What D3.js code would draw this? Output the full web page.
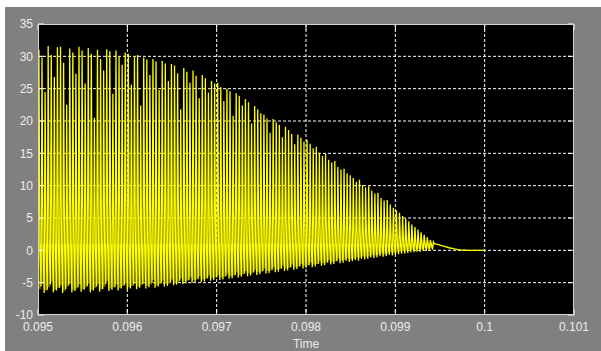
<!DOCTYPE html>
<html>
<head>
<meta charset="utf-8">
<script src="https://cdn.jsdelivr.net/npm/d3@7"></script>
<style>
  body { margin: 0; background: #fff; }
  svg { display: block; }
  text { font-family: "Liberation Sans", Arial, sans-serif; font-size: 12px; fill: #ececec; }
</style>
</head>
<body>
<svg id="chart" width="601" height="351"></svg>
<script>
// axis ticks
var xTicks = [0.095, 0.096, 0.097, 0.098, 0.099, 0.1, 0.101];
var xTickLabels = ["0.095", "0.096", "0.097", "0.098", "0.099", "0.1", "0.101"];
var yTicks = [-10, -5, 0, 5, 10, 15, 20, 25, 30, 35];

// spikes: one per switching period, starting at spikeStart
var spikeStart = 0.095;
var spikeStep = 0.0000345;
var bandTop = 1;

// peak of each spike
var peaks = [
  31.0, 29.8, 24.5, 31.6, 30.2, 26.8, 31.4, 31.5, 29.0, 22.5, 31.2, 30.6, 27.3, 31.5, 30.9,
  25.8, 31.3, 30.4, 20.5, 31.0, 29.6, 27.8, 31.1, 30.8, 24.2, 30.9, 30.0, 28.7, 30.6,
  30.4, 25.6, 29.9, 30.2, 22.4, 29.8, 29.5, 27.1, 29.6, 29.2, 24.8, 29.3, 28.9, 26.2, 28.8,
  28.6, 27.4, 21.8, 28.2, 27.6, 25.9, 27.8, 27.0, 23.5, 27.1, 26.6, 24.4, 26.2, 25.8,
  25.9, 25.2, 23.1, 25.0, 24.6, 20.8, 24.3, 23.9, 22.4, 23.4, 22.9, 19.6, 22.3, 21.8, 21.2,
  21.0, 20.4, 18.2, 20.3, 19.8, 19.4, 17.5, 19.1, 18.6, 18.0, 16.4, 17.9, 17.4, 16.8, 17.1,
  16.5, 15.8, 16.0, 15.1, 14.6, 14.9, 14.0, 13.6, 13.8, 12.9, 12.5, 12.6, 11.9, 11.6,
  11.2, 10.6, 10.9, 10.1, 9.7, 9.9, 9.2, 8.8, 8.9, 8.1, 7.7, 7.8, 7.1, 6.6, 6.2,
  5.8, 5.3, 4.9, 4.5, 4.0, 3.6, 3.2, 2.8, 2.4, 2.0, 1.6, 1.3
];

// trough before each spike
var troughs = [
  -6.4, -5.6, -6.6, -6.1, -5.3, -6.5, -6.2, -5.8, -6.6, -6.0, -5.4, -6.5, -6.3, -5.7, -6.4,
  -6.1, -5.5, -6.5, -6.2, -5.6, -6.4, -6.0, -5.2, -6.3, -6.1, -5.7, -6.2, -5.9, -5.4,
  -6.1, -5.9, -5.3, -6.0, -5.8, -5.2, -5.9, -5.7, -5.0, -5.8, -5.6, -5.1, -5.6, -5.5, -4.9,
  -5.4, -5.3, -4.7, -5.2, -5.1, -4.6, -5.0, -4.9, -4.4, -4.9, -4.8, -4.3, -4.7, -4.6,
  -4.2, -4.6, -4.5, -4.0, -4.4, -4.3, -3.8, -4.2, -4.1, -3.6, -4.0, -3.9, -3.4, -3.8, -3.7,
  -3.2, -3.6, -3.5, -3.0, -3.4, -3.3, -2.8, -3.2, -3.1, -2.6, -3.0, -2.9, -2.5, -2.8, -2.7,
  -2.3, -2.6, -2.5, -2.1, -2.4, -2.3, -1.9, -2.2, -2.1, -1.7, -2.0, -1.9, -1.6, -1.8,
  -1.7, -1.5, -1.6, -1.3, -1.4, -1.3, -1.1, -1.2, -1.1, -0.9, -1.0, -0.9, -0.7, -0.8, -0.7,
  -0.6, -0.5, -0.5, -0.4, -0.3, -0.3, -0.2, -0.2, -0.1, -0.1, 0.0, 0.1
];

// decay after the last spike
var tailTimes = [0.09945, 0.0995, 0.09955, 0.0996, 0.09965, 0.0997, 0.09975, 0.0998, 0.1];
var tailValues = [1.0, 0.8, 0.6, 0.4, 0.25, 0.12, 0.04, 0.01, 0.0];

var svg = d3.select("#chart");
var margin = { left: 38, top: 24, right: 27, bottom: 36 };
var W = +svg.attr("width"), H = +svg.attr("height");
var plotW = W - margin.left - margin.right;
var plotH = H - margin.top - margin.bottom;

// background
svg.append("rect").attr("x", 5).attr("y", 7).attr("width", W - 5).attr("height", H - 7).attr("fill", "#808080");

var x = d3.scaleLinear().domain([0.095, 0.101]).range([margin.left, margin.left + plotW]);
var y = d3.scaleLinear().domain([-10, 35]).range([margin.top + plotH, margin.top]);

svg.append("rect")
  .attr("x", margin.left).attr("y", margin.top)
  .attr("width", plotW).attr("height", plotH)
  .attr("fill", "#000");

svg.append("clipPath").attr("id", "clip")
  .append("rect")
  .attr("x", margin.left).attr("y", margin.top)
  .attr("width", plotW).attr("height", plotH);

// grid
var grid = svg.append("g");
grid.selectAll(".gx").data(xTicks.slice(1, -1)).enter().append("line")
  .attr("x1", d => x(d)).attr("x2", d => x(d))
  .attr("y1", margin.top).attr("y2", margin.top + plotH)
  .attr("stroke", "#fff").attr("stroke-dasharray", "3,2");
grid.selectAll(".gy").data(yTicks.slice(1, -1)).enter().append("line")
  .attr("x1", margin.left).attr("x2", margin.left + plotW)
  .attr("y1", d => y(d)).attr("y2", d => y(d))
  .attr("stroke", "#fff").attr("stroke-dasharray", "3,2");

var spikes = peaks.map(function (p, i) {
  return { t: spikeStart + i * spikeStep, peak: p, trough: troughs[i] };
});

// dense ringing band between the troughs and the clamp level
var band = d3.area()
  .x(d => x(d.t))
  .y0(d => y(d.trough + 0.4))
  .y1(d => y(Math.min(bandTop, d.peak)))
  .curve(d3.curveStepAfter);
svg.append("path")
  .attr("clip-path", "url(#clip)")
  .attr("d", band(spikes))
  .attr("fill", "#7a7a00")
  .attr("opacity", 0.85);

// signal: fast rise to the peak, fall back to the clamp level
var pts = [];
spikes.forEach(function (s) {
  pts.push([s.t, s.trough]);
  pts.push([s.t + 0.3 * spikeStep, s.peak]);
  pts.push([s.t + 0.6 * spikeStep, Math.min(bandTop, s.peak)]);
});
tailTimes.forEach(function (t, i) { pts.push([t, tailValues[i]]); });

var line = d3.line().x(d => x(d[0])).y(d => y(d[1]));
svg.append("path")
  .attr("clip-path", "url(#clip)")
  .attr("d", line(pts))
  .attr("fill", "none")
  .attr("stroke", "#ffff00")
  .attr("stroke-width", 1.3);

// inner ticks on all four sides
var tl = 6;
var ticks = svg.append("g").attr("stroke", "#fff");
xTicks.forEach(function (d) {
  ticks.append("line").attr("x1", x(d)).attr("x2", x(d)).attr("y1", margin.top + plotH).attr("y2", margin.top + plotH - tl);
  ticks.append("line").attr("x1", x(d)).attr("x2", x(d)).attr("y1", margin.top).attr("y2", margin.top + tl);
});
yTicks.forEach(function (d) {
  ticks.append("line").attr("x1", margin.left).attr("x2", margin.left + tl).attr("y1", y(d)).attr("y2", y(d));
  ticks.append("line").attr("x1", margin.left + plotW).attr("x2", margin.left + plotW - tl).attr("y1", y(d)).attr("y2", y(d));
});

// frame
svg.append("rect")
  .attr("x", margin.left + 0.5).attr("y", margin.top + 0.5)
  .attr("width", plotW - 1).attr("height", plotH - 1)
  .attr("fill", "none").attr("stroke", "#d4d4d4");

// labels
svg.selectAll(".xl").data(xTicks).enter().append("text")
  .attr("x", d => x(d)).attr("y", margin.top + plotH + 16)
  .attr("text-anchor", "middle")
  .text((d, i) => xTickLabels[i]);
svg.selectAll(".yl").data(yTicks).enter().append("text")
  .attr("x", margin.left - 5).attr("y", d => y(d))
  .attr("dy", "0.35em")
  .attr("text-anchor", "end")
  .text(d => d);
svg.append("text")
  .attr("x", margin.left + plotW / 2).attr("y", H - 3)
  .attr("text-anchor", "middle")
  .text("Time");
</script>
</body>
</html>
